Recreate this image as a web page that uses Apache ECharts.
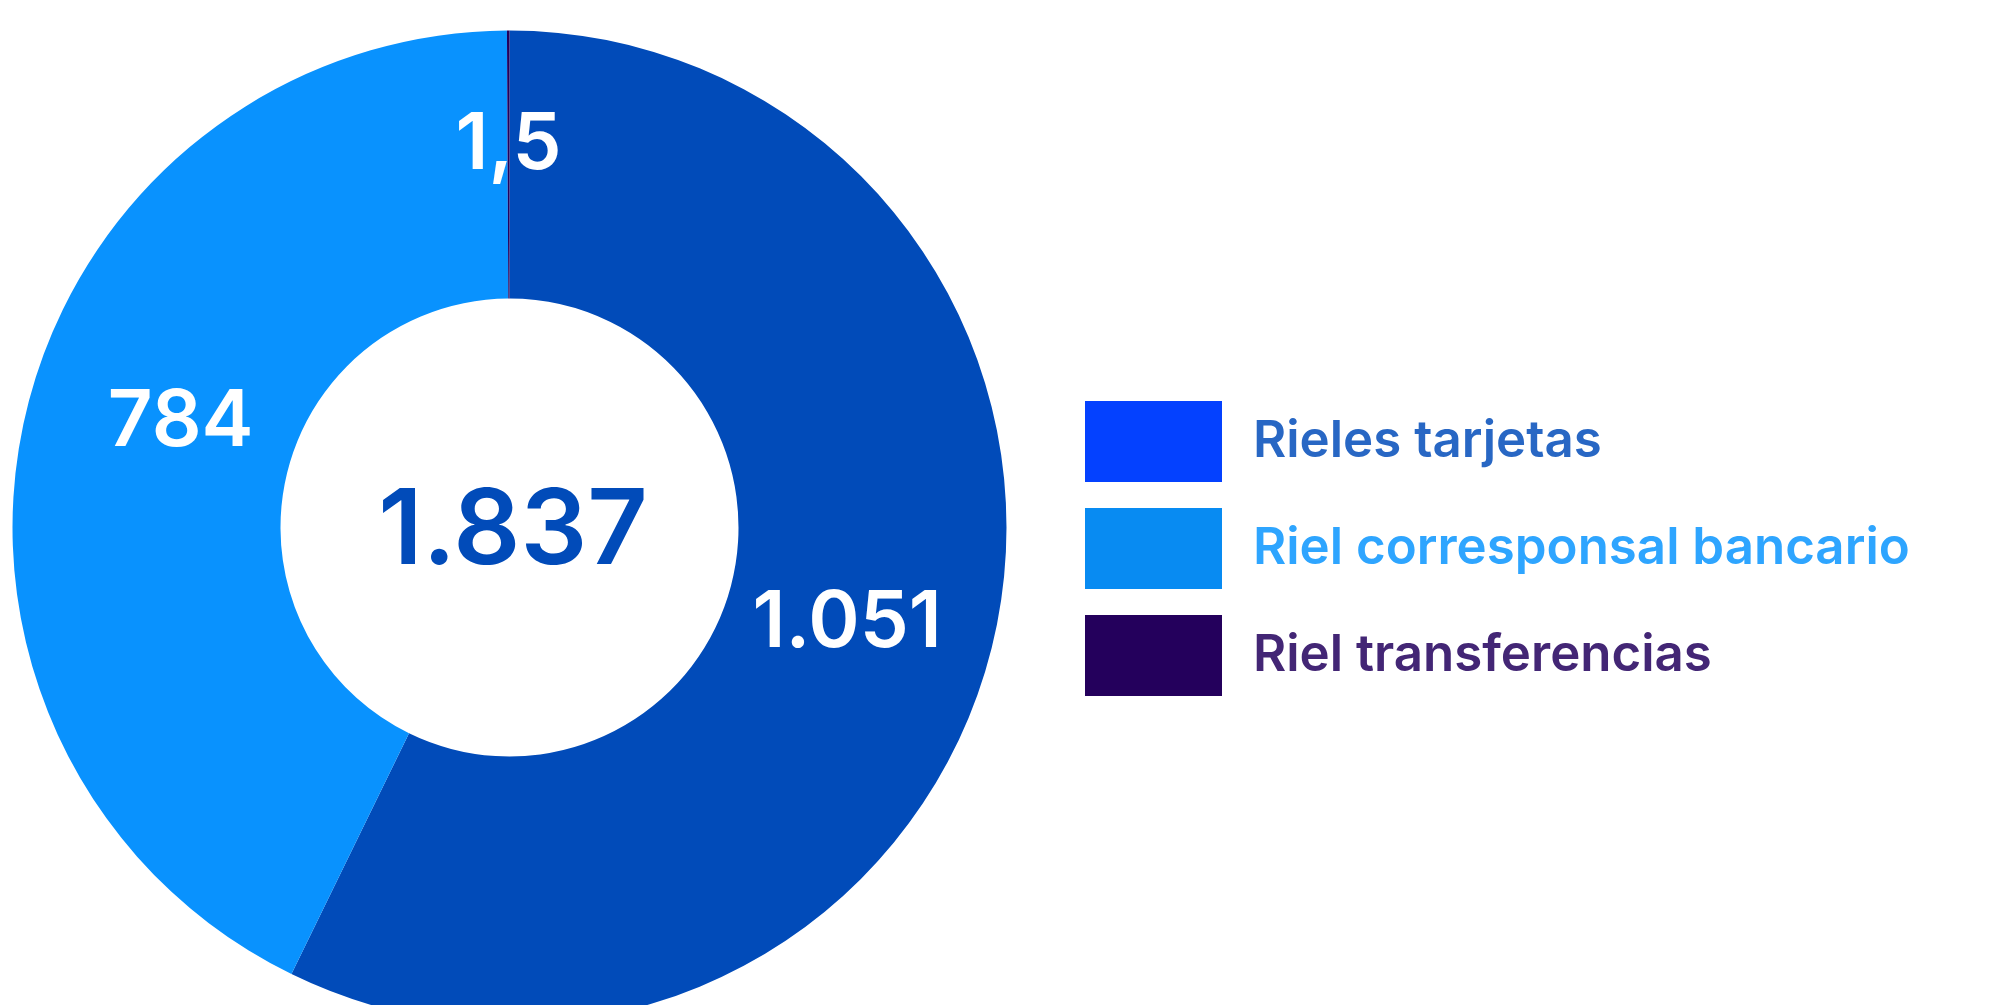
<!DOCTYPE html>
<html>
<head>
<meta charset="utf-8">
<script src="https://cdn.jsdelivr.net/npm/echarts@6/dist/echarts.min.js"></script>
<style>
  html, body { margin: 0; padding: 0; background: #fff; }
  #chart { width: 1989px; height: 1005px; }
</style>
</head>
<body>
<div id="chart"></div>
<script>
// datos del grafico
var categorias = ['Rieles tarjetas', 'Riel corresponsal bancario', 'Riel transferencias']
var valores = [1051, 784, 1.5]
var coloresSector = ['#014BB9', '#0992FE', '#22005C']
var coloresLeyenda = ['#0441FF', '#088BF2', '#24005C']
var coloresTexto = ['#2867C4', '#2EA5FF', '#432675']

// formato es: punto de miles, coma decimal
function fmt (v) {
  var partes = String(v).split('.')
  var ent = partes[0].replace(/\B(?=(\d{3})+(?!\d))/g, '.')
  return partes.length > 1 ? ent + ',' + partes[1] : ent
}

var total = Math.round(valores.reduce(function (a, b) { return a + b }, 0))
var fuente = 'Inter'
// ajuste fino de etiquetas
var desplaz = [[-19, 14], [28, -23], [0, -16]]

// estilos rich para el texto de la leyenda
var richLeyenda = {}
coloresTexto.forEach(function (c, i) {
  richLeyenda['c' + i] = {
    color: c,
    fontSize: 51,
    fontWeight: 600,
    fontFamily: fuente,
    padding: [0, 0, 0, 26]
  }
})

var chart = echarts.init(document.getElementById('chart'))
chart.setOption({
  animation: false,
  title: {
    text: fmt(total),
    left: 508,
    top: 527,
    textAlign: 'center',
    textVerticalAlign: 'middle',
    textStyle: { color: '#014BB9', fontSize: 105, fontWeight: 600, fontFamily: fuente }
  },
  legend: {
    orient: 'vertical',
    left: 1080,
    top: 396,
    itemWidth: 137,
    itemHeight: 81,
    itemGap: 26,
    icon: 'rect',
    selectedMode: false,
    formatter: function (name) {
      var i = categorias.indexOf(name)
      return '{c' + i + '|' + name + '}'
    },
    textStyle: { rich: richLeyenda },
    data: categorias.map(function (c, i) {
      return { name: c, itemStyle: { color: coloresLeyenda[i] } }
    })
  },
  series: [
    {
      name: 'Rieles',
      type: 'pie',
      center: [509.5, 527.5],
      radius: [229, 497],
      startAngle: 90,
      clockwise: true,
      avoidLabelOverlap: false,
      labelLine: { show: false },
      emphasis: { disabled: true },
      data: valores.map(function (v, i) {
        return {
          name: categorias[i],
          value: v,
          itemStyle: { color: coloresSector[i] },
          label: { offset: desplaz[i] }
        }
      }),
      label: {
        show: true,
        position: 'inside',
        color: '#fff',
        fontSize: 78,
        fontWeight: 600,
        fontFamily: fuente,
        formatter: function (p) { return fmt(p.value) }
      }
    }
  ]
})
</script>
</body>
</html>
